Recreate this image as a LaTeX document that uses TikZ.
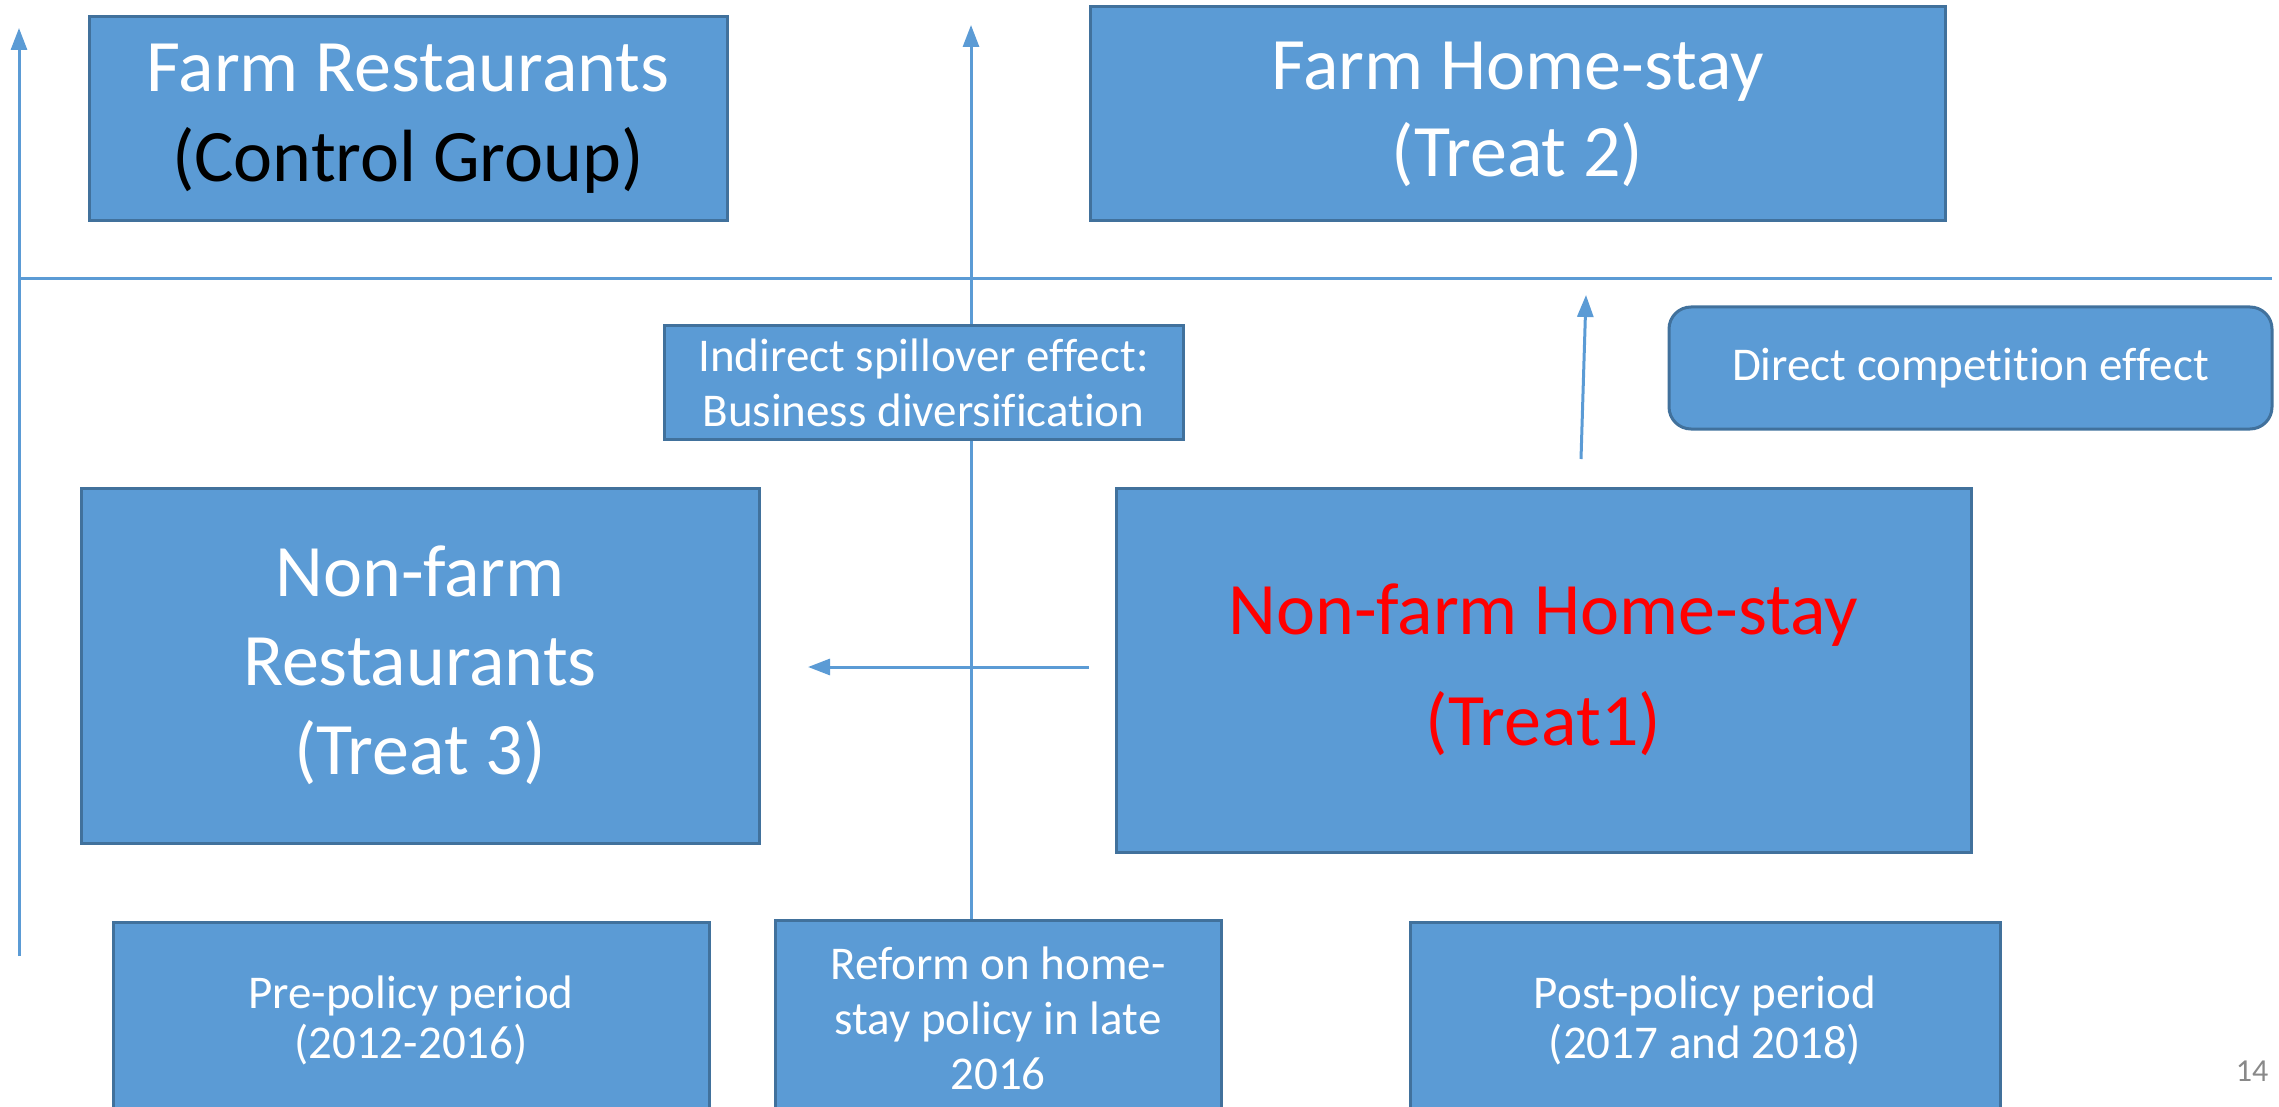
\documentclass[tikz,border=0pt]{standalone}
\usepackage{fontspec}
\setmainfont{Carlito}[Ligatures=NoCommon]
\usetikzlibrary{arrows.meta}
\definecolor{boxfill}{HTML}{5B9BD5}
\definecolor{boxline}{HTML}{41719C}
\definecolor{linecol}{HTML}{5B9BD5}
\definecolor{pagenum}{HTML}{898989}
\begin{document}
\begin{tikzpicture}[x=1pt,y=-1pt,
  box/.style={draw=boxline, fill=boxfill, line width=3pt, text=white, align=center, inner sep=0pt, anchor=center},
  conn/.style={draw=linecol, line width=3pt},
  arr/.style={conn, -{Triangle[width=16pt,length=22pt]}}]
\useasboundingbox (0,0) rectangle (2279,1107);
\clip (0,0) rectangle (2279,1107);

% coordinates for free ends
\coordinate (axisbot) at (19,956);
\coordinate (axistop) at (19,28);
\coordinate (hleft) at (19,279);
\coordinate (hright) at (2272,279);
\coordinate (midtop) at (971,25);
\coordinate (compbot) at (1581,459);
\coordinate (comptop) at (1586,295);
\coordinate (leftend) at (808,667);

% bottom boxes
\node[box,font=\fontsize{47}{50}\selectfont,minimum width=596pt,minimum height=196pt] (pre) at (411,1020) {Pre-policy period\\(2012-2016)};
\node[box,font=\fontsize{47}{55}\selectfont,minimum width=446pt,minimum height=196pt] (reform) at (998,1018) {Reform on home-\\stay policy in late\\2016};
\node[box,font=\fontsize{47}{50}\selectfont,minimum width=590pt,minimum height=196pt] (post) at (1705,1020) {Post-policy period\\(2017 and 2018)};

% axes and lines
\draw[arr] (axisbot) -- (axistop);
\draw[conn] (hleft) -- (hright);
\draw[arr] (reform.north -| midtop) -- (midtop);

% top boxes
\node[box,font=\fontsize{74}{90}\selectfont,minimum width=638pt,minimum height=204pt] (farmrest) at (408,119) {Farm Restaurants\\\textcolor{black}{(Control Group)}};
\node[box,font=\fontsize{74}{87}\selectfont,minimum width=855pt,minimum height=214pt] (farmhome) at (1517.5,114) {Farm Home-stay\\(Treat 2)};

% middle labels
\node[box,font=\fontsize{47}{55}\selectfont,minimum width=519pt,minimum height=113pt] (indirect) at (923.5,382.5) {Indirect spillover effect:\\Business diversification};
\node[box,rounded corners=22pt,font=\fontsize{47}{55}\selectfont,minimum width=603pt,minimum height=122pt] (direct) at (1970.5,368) {Direct competition effect};
\draw[arr] (compbot) -- (comptop);

% middle boxes
\node[box,font=\fontsize{74}{89}\selectfont,minimum width=678pt,minimum height=355pt] (nfrest) at (420,665.5) {Non-farm\\Restaurants\\(Treat 3)};
\node[box,font=\fontsize{74}{111}\selectfont,text=red,minimum width=855pt,minimum height=364pt] (nfhome) at (1543.5,670) {Non-farm Home-stay\\(Treat1)};
\draw[arr] (nfhome.west |- leftend) ++(-26,0) -- (leftend);

% page number
\node[font=\fontsize{32}{38}\selectfont,text=pagenum] (pnum) at (2252,1071) {14};
\end{tikzpicture}
\end{document}
